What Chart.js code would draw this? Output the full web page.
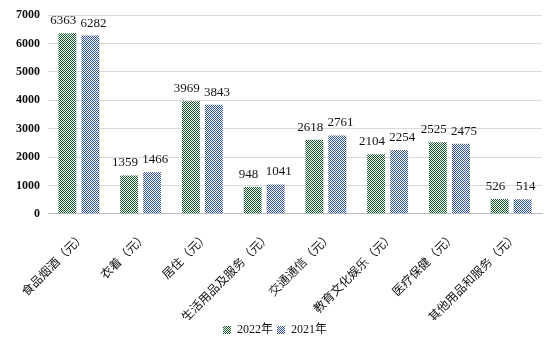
<!DOCTYPE html>
<html>
<head>
<meta charset="utf-8">
<script src="https://cdn.jsdelivr.net/npm/chart.js@4/dist/chart.umd.min.js"></script>
<style>
  html, body { margin: 0; padding: 0; background: #fff; }
  #wrap { width: 546px; height: 358px; }
</style>
</head>
<body>
<div id="wrap"><canvas id="chart"></canvas></div>
<script>
const categories = ['食品烟酒（元）', '衣着（元）', '居住（元）', '生活用品及服务（元）', '交通通信（元）', '教育文化娱乐（元）', '医疗保健（元）', '其他用品和服务（元）'];
const values2022 = [6363, 1359, 3969, 948, 2618, 2104, 2525, 526];
const values2021 = [6282, 1466, 3843, 1041, 2761, 2254, 2475, 514];
const seriesNames = ['2022年', '2021年'];

// small checker pattern like the dotted fills in the picture
function checker(color) {
  const c = document.createElement('canvas');
  c.width = 2;
  c.height = 2;
  const g = c.getContext('2d');
  g.fillStyle = '#ffffff';
  g.fillRect(0, 0, 2, 2);
  g.fillStyle = color;
  g.fillRect(0, 0, 1, 1);
  g.fillRect(1, 1, 1, 1);
  return document.getElementById('chart').getContext('2d').createPattern(c, 'repeat');
}

const serif = '"Liberation Serif", "Times New Roman", "Noto Sans CJK SC", serif';

// labels sit a little outward from each bar, like Excel does when they would collide
const valueLabels = {
  id: 'valueLabels',
  afterDatasetsDraw(chart) {
    const { ctx } = chart;
    ctx.save();
    ctx.font = '13px ' + serif;
    ctx.fillStyle = '#111';
    ctx.textAlign = 'center';
    ctx.textBaseline = 'bottom';
    chart.data.datasets.forEach((ds, i) => {
      const shift = i === 0 ? -4 : 3;
      chart.getDatasetMeta(i).data.forEach((bar, j) => {
        ctx.fillText(ds.data[j], bar.x + shift, bar.y - 6);
      });
    });
    ctx.restore();
  }
};

new Chart(document.getElementById('chart'), {
  type: 'bar',
  data: {
    labels: categories,
    datasets: [
      { label: seriesNames[0], data: values2022, backgroundColor: checker('#0f5526') },
      { label: seriesNames[1], data: values2021, backgroundColor: checker('#2f5192') }
    ]
  },
  options: {
    responsive: true,
    maintainAspectRatio: false,
    animation: false,
    categoryPercentage: 0.745,
    barPercentage: 0.78,
    layout: { padding: { top: 10, right: 4, left: 8, bottom: 12 } },
    plugins: {
      tooltip: { enabled: false },
      legend: {
        position: 'bottom',
        labels: {
          boxWidth: 8,
          boxHeight: 8,
          padding: 4,
          color: '#111',
          font: { family: serif, size: 12 }
        }
      }
    },
    scales: {
      x: {
        // rotated labels reserve more room than they use
        afterFit: (scale) => { scale.height -= 13; },
        grid: { display: false },
        border: { color: '#bfbfbf' },
        ticks: {
          color: '#111',
          minRotation: 45,
          maxRotation: 45,
          autoSkip: false,
          padding: 8,
          labelOffset: 5,
          font: { family: serif, size: 12 }
        }
      },
      y: {
        min: 0,
        max: 7000,
        border: { display: false },
        grid: { color: '#d9d9d9', drawTicks: false },
        ticks: {
          stepSize: 1000,
          padding: 8,
          color: '#111',
          callback: (value) => String(value),
          font: { family: serif, size: 12, weight: 'bold' }
        }
      }
    }
  },
  plugins: [valueLabels]
});
</script>
</body>
</html>
